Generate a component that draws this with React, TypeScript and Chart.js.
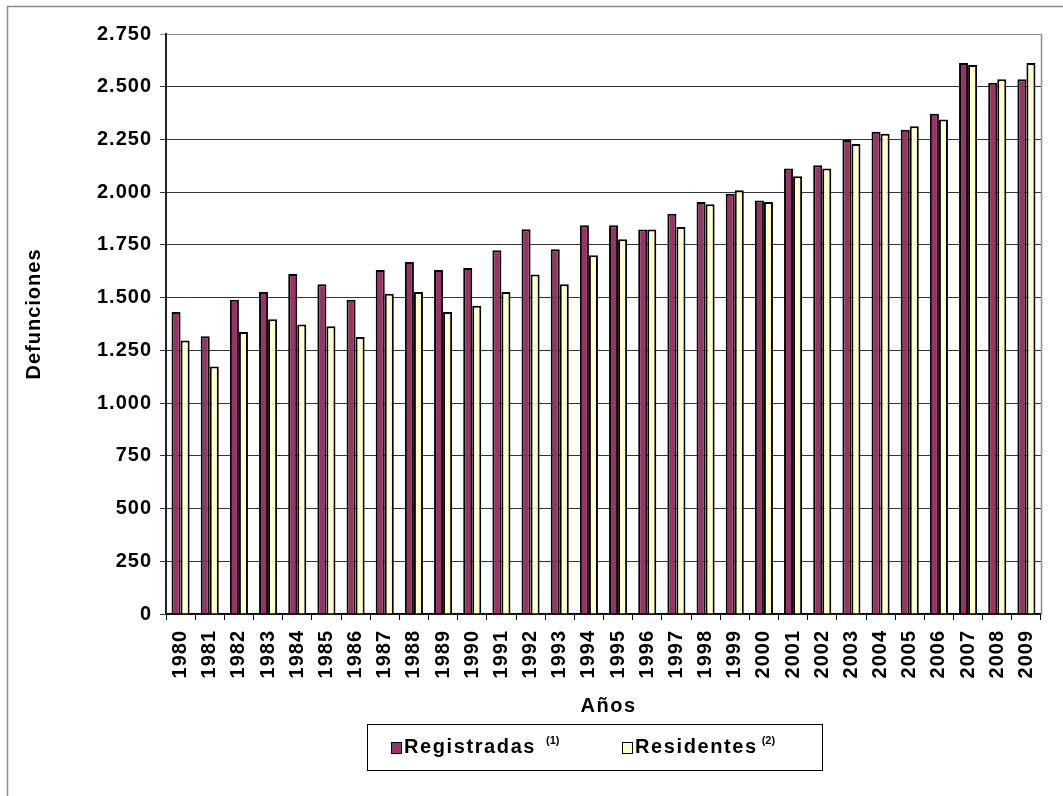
import React, { useEffect, useRef } from "react";
import { Chart, registerables } from "chart.js";

Chart.register(...registerables);

// ---------- data ----------
const years = [
  "1980", "1981", "1982", "1983", "1984", "1985", "1986", "1987", "1988", "1989",
  "1990", "1991", "1992", "1993", "1994", "1995", "1996", "1997", "1998", "1999",
  "2000", "2001", "2002", "2003", "2004", "2005", "2006", "2007", "2008", "2009",
];
const registradas = [
  1432, 1317, 1490, 1527, 1612, 1563, 1490, 1631, 1669, 1631,
  1640, 1725, 1824, 1730, 1843, 1843, 1823, 1898, 1953, 1992,
  1961, 2112, 2128, 2248, 2286, 2296, 2372, 2612, 2519, 2536,
];
const residentes = [
  1297, 1174, 1337, 1398, 1373, 1364, 1313, 1519, 1527, 1432,
  1461, 1527, 1610, 1563, 1701, 1777, 1823, 1835, 1943, 2009,
  1953, 2076, 2112, 2228, 2277, 2313, 2345, 2603, 2536, 2612,
];
const seriesNames = ["Registradas", "Residentes"];
const seriesNotes = ["(1)", "(2)"];
const seriesColors = ["#993366", "#FFFFCC"];
const yMin = 0;
const yMax = 2750;
const yStep = 250;
const yTitle = "Defunciones";
const xTitle = "Años";

const FONT = "'Liberation Sans', Arial, Helvetica, sans-serif";

function fmtThousands(v: number): string {
  return String(v).replace(/\B(?=(\d{3})+(?!\d))/g, ".");
}

const decorPlugin = {
  id: "decor",
  beforeDraw(chart: any) {
    const ctx = chart.ctx as any;
    ctx.letterSpacing = "1px";
    ctx.save();
    ctx.fillStyle = "#ffffff";
    ctx.fillRect(0, 0, chart.width, chart.height);
    // outer chart frame
    ctx.strokeStyle = "#8c8c8c";
    ctx.lineWidth = 1.5;
    ctx.strokeRect(7.5, 6.5, chart.width + 40, chart.height + 40);
    ctx.restore();
  },
  afterDraw(chart: any) {
    const ctx = chart.ctx as any;
    const a = chart.chartArea;
    ctx.save();
    // right border of the plot area
    ctx.strokeStyle = "#8c8c8c";
    ctx.lineWidth = 1.5;
    ctx.beginPath();
    ctx.moveTo(Math.round(a.right) + 0.5, a.top);
    ctx.lineTo(Math.round(a.right) + 0.5, a.bottom);
    ctx.stroke();

    // axis titles
    ctx.fillStyle = "#000";
    ctx.font = `bold 20px ${FONT}`;
    ctx.textAlign = "center";
    ctx.textBaseline = "middle";
    ctx.letterSpacing = "1px";
    ctx.save();
    ctx.translate(34, 314);
    ctx.rotate(-Math.PI / 2);
    ctx.fillText(yTitle, 0, 0);
    ctx.restore();
    ctx.letterSpacing = "1.5px";
    ctx.fillText(xTitle, (a.left + a.right) / 2 + 5, 706);

    // legend
    const bx = 367.5, by = 724.5, bw = 455, bh = 46;
    ctx.strokeStyle = "#000";
    ctx.lineWidth = 1;
    ctx.strokeRect(bx, by, bw, bh);
    const swatchX = [391, 622];
    const noteGap = [10, 4];
    chart.data.datasets.forEach((ds: any, i: number) => {
      const sx = swatchX[i];
      ctx.fillStyle = ds.backgroundColor;
      ctx.fillRect(sx, 742, 10, 11);
      ctx.strokeStyle = "#000";
      ctx.lineWidth = 1;
      ctx.strokeRect(sx + 0.5, 742.5, 10, 11);
      ctx.fillStyle = "#000";
      ctx.textAlign = "left";
      ctx.textBaseline = "alphabetic";
      ctx.font = `bold 20px ${FONT}`;
      ctx.letterSpacing = "1.6px";
      const tx = sx + 13;
      ctx.fillText(ds.label, tx, 753);
      const w = ctx.measureText(ds.label).width;
      ctx.font = `bold 11px ${FONT}`;
      ctx.letterSpacing = "0px";
      ctx.fillText(seriesNotes[i], tx + w + noteGap[i], 744);
    });
    ctx.restore();
  },
};

export default function App() {
  const canvasRef = useRef<HTMLCanvasElement | null>(null);

  useEffect(() => {
    if (!canvasRef.current) return;
    const chart = new Chart(canvasRef.current, {
      type: "bar",
      data: {
        labels: years,
        datasets: [
          {
            label: seriesNames[0],
            data: registradas,
            backgroundColor: seriesColors[0],
            borderColor: "#000",
            borderWidth: 2,
            categoryPercentage: 0.62,
            barPercentage: 1.0,
          },
          {
            label: seriesNames[1],
            data: residentes,
            backgroundColor: seriesColors[1],
            borderColor: "#000",
            borderWidth: 2,
            categoryPercentage: 0.62,
            barPercentage: 1.0,
          },
        ],
      },
      options: {
        responsive: false,
        animation: false,
        layout: { padding: { left: 0, top: 34, right: 22, bottom: 0 } },
        plugins: {
          legend: { display: false },
          tooltip: { enabled: false },
          title: { display: false },
        },
        scales: {
          x: {
            afterFit: (scale: any) => {
              scale.height = 182;
            },
            grid: {
              display: true,
              drawOnChartArea: false,
              drawTicks: true,
              tickLength: 6,
              color: "#000",
              offset: true,
            },
            border: { display: true, color: "#000", width: 1.5 },
            ticks: {
              autoSkip: false,
              minRotation: 90,
              maxRotation: 90,
              padding: 10,
              color: "#000",
              font: { family: FONT, size: 20, weight: "bold" },
            },
          },
          y: {
            min: yMin,
            max: yMax,
            afterFit: (scale: any) => {
              scale.width = 166;
            },
            grid: {
              drawTicks: true,
              tickLength: 6,
              lineWidth: 1,
              color: (c: any) => (c.tick && c.tick.value === yMax ? "#8c8c8c" : "#333"),
            },
            border: { display: true, color: "#222", width: 2 },
            ticks: {
              stepSize: yStep,
              padding: 8,
              color: "#000",
              font: { family: FONT, size: 20, weight: "bold" },
              callback: (v: any) => fmtThousands(Number(v)),
            },
          },
        },
      },
      plugins: [decorPlugin],
    });
    return () => chart.destroy();
  }, []);

  return (
    <div style={{ position: "fixed", left: 0, top: 0, width: 1063, height: 796, background: "#fff" }}>
      <canvas ref={canvasRef} width={1063} height={796} style={{ width: 1063, height: 796, display: "block" }} />
    </div>
  );
}
